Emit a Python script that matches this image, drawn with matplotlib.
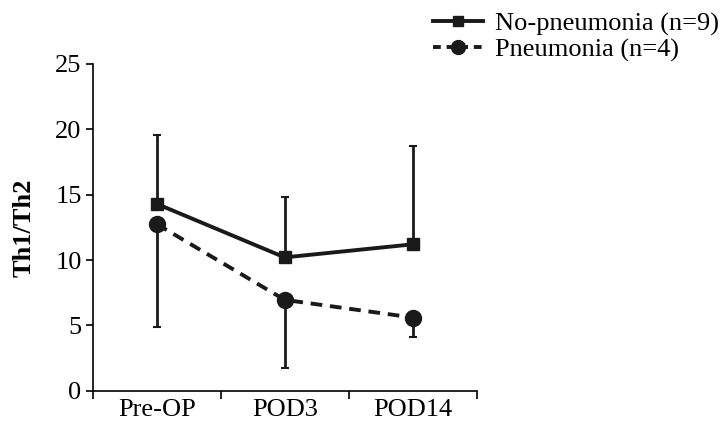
import numpy as np
import matplotlib
matplotlib.use("Agg")
import matplotlib.pyplot as plt
from matplotlib.lines import Line2D

# Data
groups = ["Pre-OP", "POD3", "POD14"]
no_pneu = [14.3, 10.2, 11.2]
no_pneu_upper = [19.6, 14.8, 18.7]   # top of error bar
pneu = [12.75, 6.95, 5.6]
pneu_lower = [4.85, 1.7, 4.1]        # bottom of error bar

plt.rcParams["font.family"] = ["Liberation Serif", "DejaVu Serif"]

fig = plt.figure(figsize=(7.28, 4.26), dpi=100)
ax = fig.add_axes([0.1273, 0.0829, 0.5275, 0.7669])

x = np.arange(len(groups))
err_up = np.array(no_pneu_upper) - np.array(no_pneu)
err_dn = np.array(pneu) - np.array(pneu_lower)

ax.errorbar(x, no_pneu, yerr=[np.zeros(3), err_up], color="#1a1a1a", lw=2.8,
            marker="s", ms=8, capsize=3, capthick=1.5, elinewidth=2,
            zorder=3)
ax.errorbar(x, pneu, yerr=[err_dn, np.zeros(3)], color="#1a1a1a", lw=2.8,
            ls=(0, (3, 2)), marker="o", ms=11.5, capsize=3, capthick=1.5,
            elinewidth=2, zorder=3)

ax.set_xlim(-0.5, 2.5)
ax.set_ylim(0, 25)
ax.set_yticks([0, 5, 10, 15, 20, 25])
ax.set_xticks([-0.5, 0.5, 1.5, 2.5])
ax.set_xticklabels([])
ax.set_xticks(x, minor=True)
ax.set_xticklabels(groups, minor=True)
ax.tick_params(axis="x", which="minor", length=0, labelsize=19, pad=6)
ax.tick_params(axis="x", which="major", length=6, width=1.2)
ax.tick_params(axis="y", length=5, width=1.2, labelsize=19, pad=3)

for s in ["top", "right"]:
    ax.spines[s].set_visible(False)
for s in ["left", "bottom"]:
    ax.spines[s].set_linewidth(1.2)

ax.set_ylabel("Th1/Th2", fontsize=19, fontweight="bold", labelpad=14)

handles = [
    Line2D([], [], color="#1a1a1a", lw=2.8, marker="s", ms=7),
    Line2D([], [], color="#1a1a1a", lw=2.8, ls=(0, (2, 1.5)), marker="o", ms=10),
]
fig.legend(handles, ["No-pneumonia (n=9)", "Pneumonia (n=4)"],
           loc="upper left", bbox_to_anchor=(0.562, 1.027), frameon=False,
           fontsize=19, handlelength=1.9, labelspacing=0.08, handletextpad=0.45)

fig.savefig("out.png", dpi=100)
